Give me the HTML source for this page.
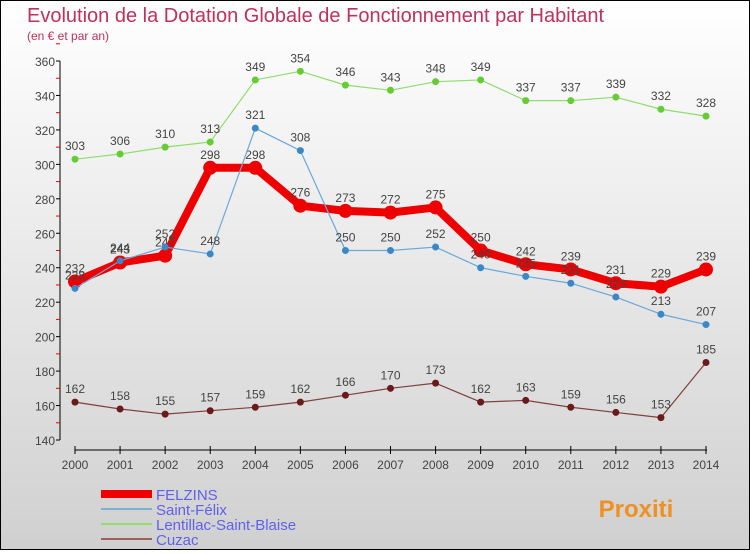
<!DOCTYPE html>
<html><head><meta charset="utf-8"><style>
body{margin:0;width:750px;height:550px;overflow:hidden;font-family:"Liberation Sans",sans-serif}
#wrap{position:absolute;left:0;top:0;width:748px;height:548px;border:1px solid #000;background:linear-gradient(#fff,#d0d0d0)}
</style></head><body>
<div id="wrap">
<svg id="c" width="748" height="548" xmlns="http://www.w3.org/2000/svg">
<text x="26" y="21" font-size="20" fill="#c0305a">Evolution de la Dotation Globale de Fonctionnement par Habitant</text>
<text x="26" y="39" font-size="12" fill="#c0305a">(en € et par an)</text>
<g id="g"></g>
</svg>
</div>
<script>
const years=[2000,2001,2002,2003,2004,2005,2006,2007,2008,2009,2010,2011,2012,2013,2014];
const felzins=[232,243,247,298,298,276,273,272,275,250,242,239,231,229,239];
const saintFelix=[228,244,252,248,321,308,250,250,252,240,235,231,223,213,207];
const lentillac=[303,306,310,313,349,354,346,343,348,349,337,337,339,332,328];
const cuzac=[162,158,155,157,159,162,166,170,173,162,163,159,156,153,185];
const yTicks=[140,160,180,200,220,240,260,280,300,320,340,360];
const names=["FELZINS","Saint-Félix","Lentillac-Saint-Blaise","Cuzac"];
const NS="http://www.w3.org/2000/svg";
const g=document.getElementById('g');
const x=i=>74+i*(631/(years.length-1));
const y=v=>60+(360-v)*(379/220);
function mk(t,a,p){const e=document.createElementNS(NS,t);for(const k in a)e.setAttribute(k,a[k]);(p||g).appendChild(e);return e;}
let ax=mk('line',{x1:59,y1:y(360),x2:59,y2:y(140),stroke:'#000'});


yTicks.forEach(v=>{
  mk('line',{x1:55,x2:59,y1:y(v),y2:y(v),stroke:'#000'});
  mk('line',{x1:55,x2:59,y1:y(v+10),y2:y(v+10),stroke:'#e00'});
  let t=mk('text',{x:54,y:y(v)+5,'text-anchor':'end','font-size':12,fill:'#444'});t.textContent=v;
  
  
});
let xa=mk('line',{x1:74,x2:706,y1:449,y2:449,stroke:'#000'});


years.forEach((yr,i)=>{
  mk('line',{x1:x(i),x2:x(i),y1:445,y2:453,stroke:'#000'});
  let t=mk('text',{x:x(i),y:468,'text-anchor':'middle','font-size':12,fill:'#444'});t.textContent=yr;
  
  
});
function series(data,col,lw,r,name,dot){
  const s=mk('g',{});
  
  
  mk('polyline',{points:data.map((v,i)=>x(i)+','+y(v)).join(' '),fill:'none',stroke:col,'stroke-width':lw,'stroke-linejoin':'round'},s);
  data.forEach((v,i)=>{
    const c=mk('circle',{cx:x(i),cy:y(v),r:r,fill:dot},s);
    
    
    const t=mk('text',{x:x(i),y:y(v)-9,'text-anchor':'middle','font-size':12,fill:'#444'},s);t.textContent=v;
    
    
  });
}
series(lentillac,'#90dd70',1.2,3.5,'lentillac-series','#66cc33');
series(cuzac,'#804040',1.2,3.5,'cuzac-series','#6a1a1a');
series(felzins,'#ee0000',8,7,'felzins-series','#ee0000');
series(saintFelix,'#6aa8d8',1.2,3.5,'saint-felix-series','#3a88c8');
const cols=['#ee0000','#80b0d0','#90dd70','#a06060'],lws=[8,2,2,2];
names.forEach((n,i)=>{
  const yy=493+i*15;
  const l=mk('line',{x1:100,x2:151,y1:yy,y2:yy,stroke:cols[i],'stroke-width':lws[i]});
  
  
  const t=mk('text',{x:155,y:yy+6,'font-size':15,fill:'#6060ee'});t.textContent=n;
  
  
});
const logo=mk('text',{x:635,y:516,'text-anchor':'middle','font-size':24,'font-weight':'bold',fill:'#f09020'});
logo.textContent='Proxiti';


</script>
</body></html>
